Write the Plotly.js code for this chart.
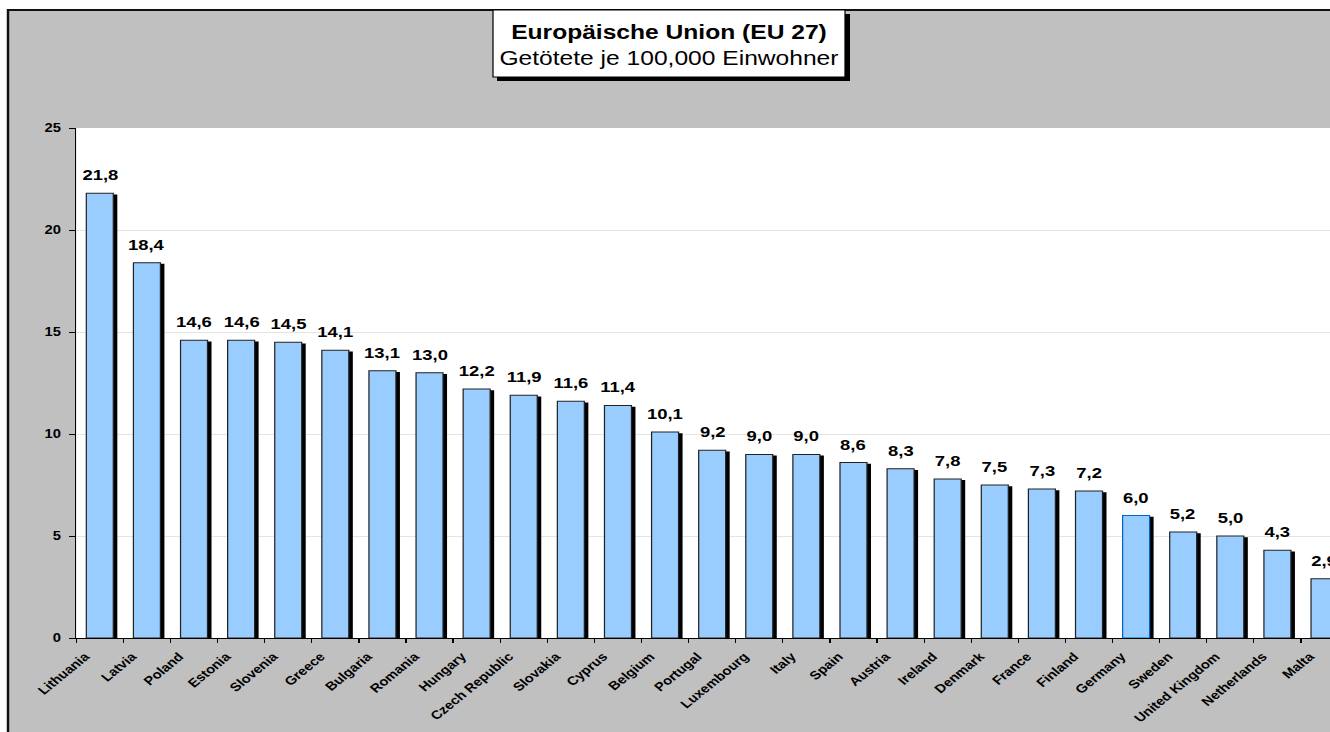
<!DOCTYPE html>
<html><head><meta charset="utf-8">
<script src="https://cdn.plot.ly/plotly-3.0.1.min.js"></script>
<style>
html,body{margin:0;padding:0;overflow:hidden;background:#fff;width:1330px;height:732px}
#wrap{width:1330px;height:732px;overflow:hidden;position:relative}
#chart{transform:scaleX(1.23);transform-origin:0 0;position:absolute;left:0;top:0}
</style></head><body><div id="wrap"><div id="chart"></div></div>
<script>
const countries = ["Lithuania","Latvia","Poland","Estonia","Slovenia","Greece","Bulgaria","Romania","Hungary","Czech Republic","Slovakia","Cyprus","Belgium","Portugal","Luxembourg","Italy","Spain","Austria","Ireland","Denmark","France","Finland","Germany","Sweden","United Kingdom","Netherlands","Malta"];
const values = [21.8,18.4,14.6,14.6,14.5,14.1,13.1,13.0,12.2,11.9,11.6,11.4,10.1,9.2,9.0,9.0,8.6,8.3,7.8,7.5,7.3,7.2,6.0,5.2,5.0,4.3,2.9];
const valueLabels = values.map(v => v.toFixed(1).replace('.', ','));
const yTicks = [0,5,10,15,20,25];
const titleLine1 = "Europäische Union (EU 27)";
const titleLine2 = "Getötete je 100,000 Einwohner";
const highlighted = "Germany";

const S = 1.23;
const W = 1110, H = 732;
const M = {l:62, r:14, t:128, b:94};
const plotW = W - M.l - M.r;
const plotH = H - M.t - M.b;
const px2x = px => (px/S - M.l)/plotW;
const py2y = py => (H - M.b - py)/plotH;

const FONT = "Liberation Sans, Arial, sans-serif";
const BW = 0.573, SH = 0.085;

const shadow = {
  type:'bar', x:countries, y:values, base:-0.06,
  width:BW, offset:-BW/2 + SH,
  marker:{color:'#000000', line:{width:0}},
  hoverinfo:'skip', showlegend:false
};
const main = {
  type:'bar', x:countries, y:values,
  width:BW, offset:-BW/2,
  marker:{color:'#99CCFF', line:{width:1, color:countries.map(c => c===highlighted ? '#0066CC' : '#222222')}},
  hoverinfo:'skip', showlegend:false
};

const annotations = countries.map((c,i) => ({
  x:c, y:values[i], xref:'x', yref:'y', text:valueLabels[i], showarrow:false,
  yanchor:'bottom', yshift:8, font:{family:FONT, size:15, color:'#000', weight:'bold'}
}));
annotations.push({
  xref:'paper', yref:'paper', x:px2x(669), y:py2y(45), xanchor:'center', yanchor:'middle',
  showarrow:false, text:'<b>'+titleLine1+'</b><br>'+titleLine2,
  font:{family:FONT, size:20, color:'#000'}
});

const shapes = [
  {type:'rect', xref:'paper', yref:'paper', layer:'below', x0:px2x(8), x1:px2x(1500), y0:py2y(10), y1:py2y(900),
   fillcolor:'#C0C0C0', line:{color:'#111', width:2}},
  {type:'rect', xref:'paper', yref:'paper', layer:'below', x0:0, x1:1, y0:0, y1:1,
   fillcolor:'#FFFFFF', line:{width:0}},
  {type:'rect', xref:'paper', yref:'paper', layer:'above', x0:px2x(497), x1:px2x(850), y0:py2y(14), y1:py2y(81),
   fillcolor:'#000', line:{width:0}},
  {type:'rect', xref:'paper', yref:'paper', layer:'above', x0:px2x(493), x1:px2x(845), y0:py2y(10), y1:py2y(77),
   fillcolor:'#FFF', line:{color:'#000', width:1}}
];

const layout = {
  width:W, height:H, margin:M,
  paper_bgcolor:'rgba(0,0,0,0)', plot_bgcolor:'rgba(0,0,0,0)',
  barmode:'overlay', showlegend:false,
  xaxis:{type:'category', range:[-0.5, countries.length-0.5], tickson:'boundaries',
    ticks:'outside', ticklen:4, tickcolor:'#000', tickwidth:1, tickangle:-45,
    ticklabelshift:-12, ticklabelstandoff:6,
    tickfont:{family:FONT, size:12, color:'#000', weight:'bold'},
    showline:true, linecolor:'#000', linewidth:1, showgrid:false, fixedrange:true},
  yaxis:{range:[0,25], tickvals:yTicks, ticks:'outside', ticklen:5, tickcolor:'#000',
    tickfont:{family:FONT, size:12, color:'#000', weight:'bold'}, ticklabelstandoff:4,
    showline:true, linecolor:'#000', linewidth:1, showgrid:true, gridcolor:'#E4E4E4', gridwidth:1,
    zeroline:false, fixedrange:true},
  annotations, shapes
};

Plotly.newPlot('chart', [shadow, main], layout, {staticPlot:true, displayModeBar:false});
</script></body></html>
